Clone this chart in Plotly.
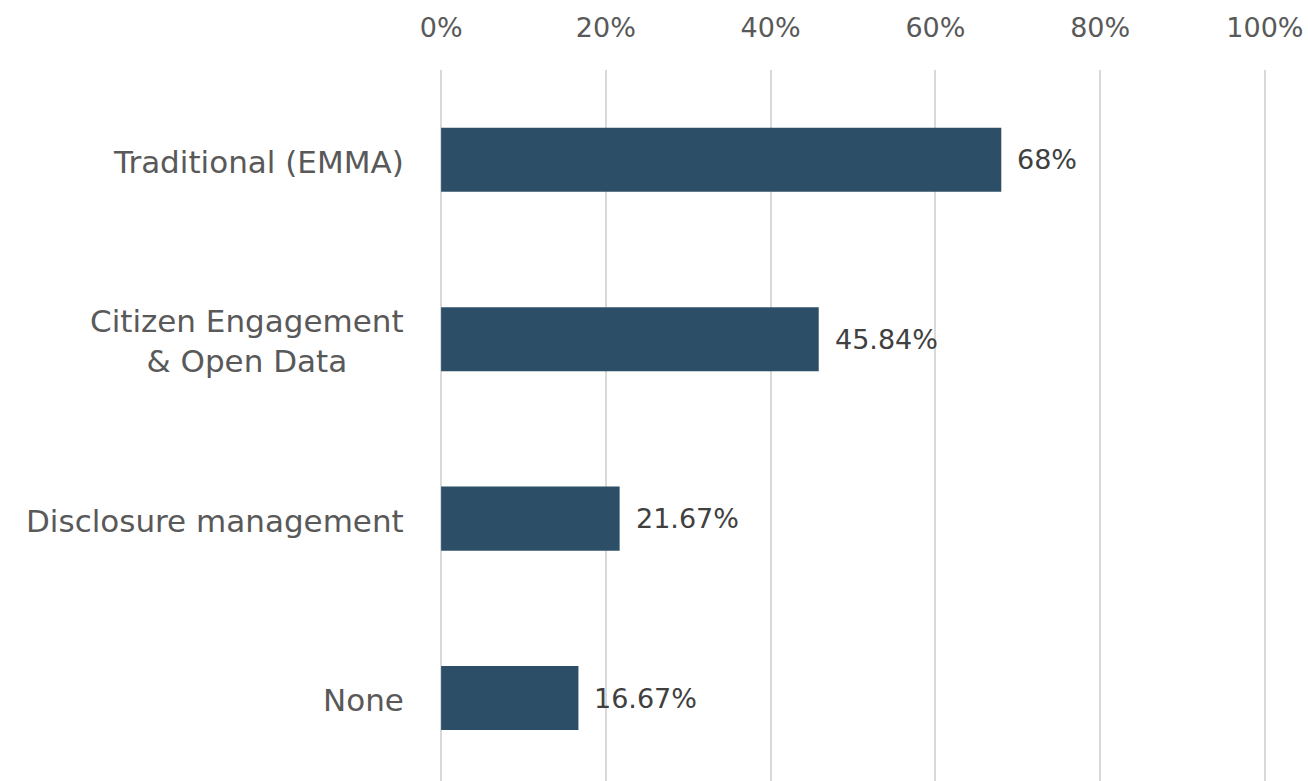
import plotly.graph_objects as go

categories = ["Traditional (EMMA)", "Citizen Engagement<br>& Open Data", "Disclosure management", "None"]
values = [68, 45.84, 21.67, 16.67]
value_labels = ["68%", "45.84%", "21.67%", "16.67%"]
tick_vals = [0, 20, 40, 60, 80, 100]
tick_text = ["0%", "20%", "40%", "60%", "80%", "100%"]

FONT = "DejaVu Sans"
BAR_COLOR = "#2C4E66"

fig = go.Figure()
fig.add_trace(go.Bar(
    y=categories,
    x=values,
    orientation="h",
    marker=dict(color=BAR_COLOR, line=dict(width=0)),
    hoverinfo="skip",
))

annotations = []
# value labels
for cat, v, lab in zip(categories, values, value_labels):
    annotations.append(dict(
        x=v, y=cat, xref="x", yref="y", text=lab, showarrow=False,
        xanchor="left", yanchor="middle", xshift=14,
        font=dict(family=FONT, size=27, color="#404040"),
    ))
# category labels (right-aligned block, centred lines)
for cat in categories:
    annotations.append(dict(
        x=0, y=cat, xref="paper", yref="y", text=cat, showarrow=False,
        xanchor="right", yanchor="middle", align="center", xshift=-31, yshift=-2,
        font=dict(family=FONT, size=31, color="#595959"),
    ))

fig.update_layout(
    width=1308, height=781,
    margin=dict(l=437, r=39, t=70, b=0),
    paper_bgcolor="white", plot_bgcolor="white",
    showlegend=False,
    bargap=0.643,
    annotations=annotations,
    xaxis=dict(
        side="top", range=[-0.5, 100.5], tickvals=tick_vals, ticktext=tick_text,
        showgrid=True, gridcolor="#D9D9D9", gridwidth=1.5, zeroline=False,
        showline=False, ticks="", ticklabelstandoff=27,
        tickfont=dict(family=FONT, size=27, color="#595959"),
    ),
    yaxis=dict(
        range=[3.462, -0.5], showticklabels=False, showgrid=False,
        zeroline=False, showline=False, ticks="",
    ),
)

fig.write_html("out.html", config={"displayModeBar": False},
               post_script="document.body.style.margin='0';")
